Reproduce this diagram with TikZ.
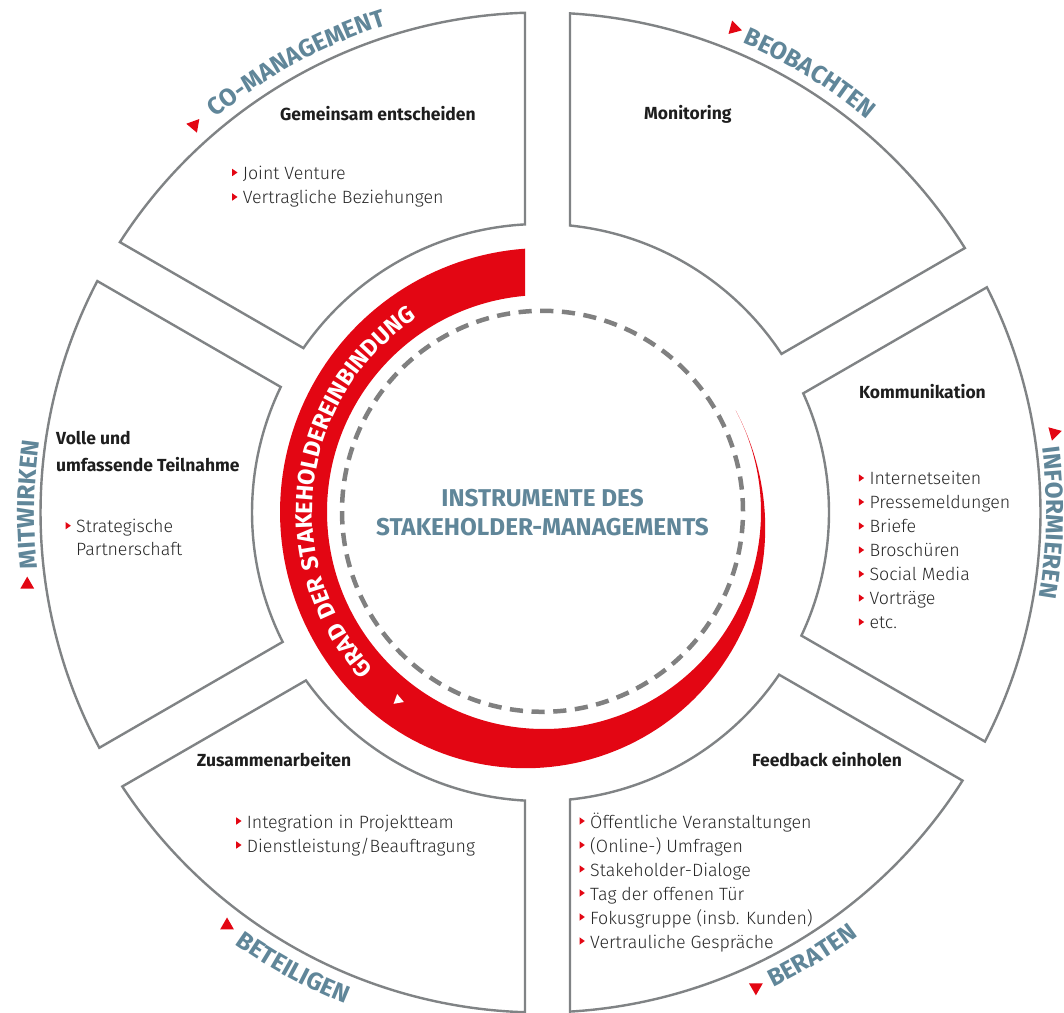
\documentclass[tikz,border=0pt]{standalone}
\usepackage{fontspec}
\setmainfont{Fira Sans}
\newfontfamily\lightfam{Fira Sans Light}
\newfontfamily\lblfam{Fira Sans}[LetterSpace=6]
\newfontfamily\bandfam{Fira Sans}[LetterSpace=8]
\usetikzlibrary{decorations.text}
\definecolor{redc}{RGB}{227,6,19}
\definecolor{linegray}{RGB}{128,131,133}
\definecolor{dashgray}{RGB}{128,128,128}
\definecolor{lblue}{RGB}{96,134,153}
\definecolor{txtblack}{RGB}{30,30,30}
\definecolor{txtgray}{RGB}{40,40,40}
\newcommand\mkhead{\fontsize{17.5}{21}\selectfont\bfseries}
\newcommand\mkitem{\lightfam\fontsize{17.8}{24}\selectfont}
\newcommand\mktitle{\fontsize{24.3}{29}\selectfont\bfseries}
\newcommand\mklbl{\lblfam\bfseries\fontsize{24.5}{28}\selectfont\color{lblue}}
\newcommand\mkband{\bandfam\bfseries\fontsize{23.5}{27}\selectfont\color{white}}
\begin{document}
\begin{tikzpicture}[x=1pt,y=1pt,
  declare function={tk(\a)=47*(3*(min(1,(387.9-\a)/161.7))^2-2*(min(1,(387.9-\a)/161.7))^3);},
  seg/.style={draw=linegray, line width=2.4pt, line join=miter},
  head/.style={font=\mkhead, text=txtblack, inner sep=0pt, anchor=base west},
  item/.style={font=\mkitem, text=txtgray, inner sep=0pt, anchor=base west},
  bul/.style={fill=redc},
  tri/.style={fill=redc}]
\fill[white] (0,0) rectangle (1064,1012);
\useasboundingbox (0,0) rectangle (1064,1012);

% ---------- six segments ----------
\begin{scope}[shift={(540.5,499.5)}]
\draw[seg] (31.93:500pt) arc[start angle=31.93, end angle=86.618, radius=500pt] -- (84.131:288.5pt) arc[start angle=84.131, end angle=33.345, radius=288.5pt] -- cycle;
\draw[seg] (91.776:500pt) arc[start angle=91.776, end angle=147.268, radius=500pt] -- (145.261:288.5pt) arc[start angle=145.261, end angle=93.080, radius=288.5pt] -- cycle;
\draw[seg] (152.426:500pt) arc[start angle=152.426, end angle=208.070, radius=500pt] -- (206.655:288.5pt) arc[start angle=206.655, end angle=154.207, radius=288.5pt] -- cycle;
\draw[seg] (213.229:500pt) arc[start angle=213.229, end angle=268.224, radius=500pt] -- (266.920:288.5pt) arc[start angle=266.920, end angle=215.603, radius=288.5pt] -- cycle;
\draw[seg] (273.382:500pt) arc[start angle=273.382, end angle=327.574, radius=500pt] -- (325.793:288.5pt) arc[start angle=325.793, end angle=275.869, radius=288.5pt] -- cycle;
\draw[seg] (-27.268:500pt) arc[start angle=-27.268, end angle=26.771, radius=500pt] -- (24.397:288.5pt) arc[start angle=24.397, end angle=-25.261, radius=288.5pt] -- cycle;

% outer labels
\path[decorate, decoration={text along path, text align=center, text={|\mklbl|CO-MANAGEMENT}}] (145:511pt) arc[start angle=145, end angle=92, radius=511pt];
\path[decorate, decoration={text along path, text align=center, text={|\mklbl|BEOBACHTEN}}] (85:511pt) arc[start angle=85, end angle=32, radius=511pt];
\path[decorate, decoration={text along path, text align=center, text={|\mklbl|INFORMIEREN}}] (25:506pt) arc[start angle=25, end angle=-27.3, radius=506pt];
\path[decorate, decoration={text along path, text align=center, text={|\mklbl|MITWIRKEN}}] (205:506pt) arc[start angle=205, end angle=153.2, radius=506pt];
\path[decorate, decoration={text along path, text align=center, text={|\mklbl|BETEILIGEN}}] (215:529pt) arc[start angle=215, end angle=268, radius=529pt];
\path[decorate, decoration={text along path, text align=center, text={|\mklbl|BERATEN}}] (275:529pt) arc[start angle=275, end angle=328, radius=529pt];

% red triangles at the labels
\fill[tri, shift={(131.8:519.6pt)}, rotate=-70] (0:8pt) -- (120:8pt) -- (240:8pt) -- cycle;
\fill[tri, shift={(68.2:521.5pt)}, rotate=-15] (0:8pt) -- (120:8pt) -- (240:8pt) -- cycle;
\fill[tri, shift={(8.8:519.7pt)}, rotate=-105] (0:8pt) -- (120:8pt) -- (240:8pt) -- cycle;
\fill[tri, shift={(188:518.3pt)}, rotate=90] (0:8pt) -- (120:8pt) -- (240:8pt) -- cycle;
\fill[tri, shift={(232.8:518.5pt)}, rotate=90] (0:8pt) -- (120:8pt) -- (240:8pt) -- cycle;
\fill[tri, shift={(294.4:521.4pt)}, rotate=-90] (0:8pt) -- (120:8pt) -- (240:8pt) -- cycle;
\end{scope}

% ---------- red band ----------
\begin{scope}[shift={(544,500)}]
\fill[redc] (95.02:217pt) arc[start angle=95.02, end angle=387.9, radius=217pt]
  -- plot[domain=387.9:94.1, samples=160, variable=\a] (\a:{217+tk(\a)}) -- cycle;
\fill[white, shift={(232.2:237.9pt)}, rotate=100] (0:6pt) -- (120:6pt) -- (240:6pt) -- cycle;
\path[decorate, decoration={text along path, text align=center, text={|\mkband|GRAD DER STAKEHOLDEREINBINDUNG}}] (245:231.5pt) arc[start angle=245, end angle=101, radius=231.5pt];
\end{scope}

% ---------- dashed circle and title ----------
\draw[dashgray, line width=4.5pt, dash pattern=on 13.2pt off 8.52pt] (542.5,500.7) circle[radius=200.5pt];
\node[font=\mktitle, text=lblue, align=center, inner sep=0pt] (title) at (542.5,499) {INSTRUMENTE DES\\STAKEHOLDER-MANAGEMENTS};

% ---------- headings ----------
\node[head] (hGem) at (280,891.5) {Gemeinsam entscheiden};
\node[head] (hMon) at (644,892) {Monitoring};
\node[head] (hKom) at (859,613.3) {Kommunikation};
\node[head] (hFee) at (752,245.3) {Feedback einholen};
\node[head] (hZus) at (196.7,245.3) {Zusammenarbeiten};
\node[head] (hVol1) at (56,567) {Volle und};
\node[head] (hVol2) at (56,540.3) {umfassende Teilnahme};

% ---------- lists ----------
\foreach \t [count=\i] in {{Joint Venture},{Vertragliche Beziehungen}}{
  \node[item] (tl\i) at (242.7,{1012-179.5-24.5*(\i-1)}) {\t};
  \fill[bul] ([xshift=-10.5pt,yshift=3.3pt]tl\i.base west) -- ++(0,7.4) -- ++(5.3,-3.7) -- cycle;
}
\foreach \t [count=\i] in {{Internetseiten},{Pressemeldungen},{Briefe},{Broschüren},{Social Media},{Vorträge},{etc.}}{
  \node[item] (kom\i) at (869.3,{1012-485-24*(\i-1)}) {\t};
  \fill[bul] ([xshift=-10.5pt,yshift=3.3pt]kom\i.base west) -- ++(0,7.4) -- ++(5.3,-3.7) -- cycle;
}
\foreach \t [count=\i] in {{Öffentliche Veranstaltungen},{(Online-) Umfragen},{Stakeholder-Dialoge},{Tag der offenen Tür},{Fokusgruppe (insb. Kunden)},{Vertrauliche Gespräche}}{
  \node[item] (fb\i) at (590,{1012-828-24*(\i-1)}) {\t};
  \fill[bul] ([xshift=-10.5pt,yshift=3.3pt]fb\i.base west) -- ++(0,7.4) -- ++(5.3,-3.7) -- cycle;
}
\foreach \t [count=\i] in {{Integration in Projektteam},{Dienstleistung/Beauftragung}}{
  \node[item] (za\i) at (246.7,{1012-828-24*(\i-1)}) {\t};
  \fill[bul] ([xshift=-10.5pt,yshift=3.3pt]za\i.base west) -- ++(0,7.4) -- ++(5.3,-3.7) -- cycle;
}
\node[item] (mw1) at (76,479.3) {Strategische};
\fill[bul] ([xshift=-10.5pt,yshift=3.3pt]mw1.base west) -- ++(0,7.4) -- ++(5.3,-3.7) -- cycle;
\node[item] (mw2) at (76,456) {Partnerschaft};
\end{tikzpicture}
\end{document}
